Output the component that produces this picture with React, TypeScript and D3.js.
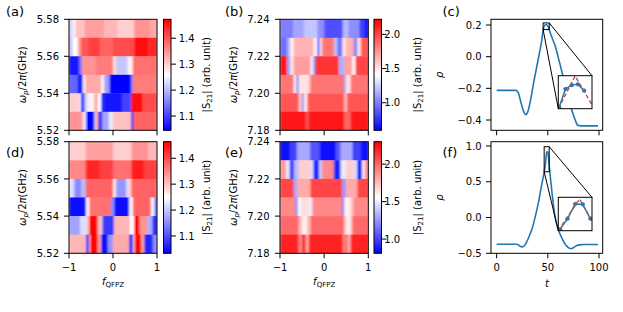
import React from "react";
import * as d3 from "d3";

const FONT = "'DejaVu Sans', sans-serif";
const C0 = "#1f77b4";
const RED_DASH = "#b5524a";

// ---------- heatmap data ----------
const fTicks = [-1, 0, 1];
const lowFreqRows = [5.575, 5.565, 5.555, 5.545, 5.535, 5.525];
const highFreqRows = [7.235, 7.225, 7.215, 7.205, 7.195, 7.185];
const lowFreqTicks = [5.52, 5.54, 5.56, 5.58];
const highFreqTicks = [7.18, 7.2, 7.22, 7.24];
const rowHalf = 0.005;

type Seg = [number, number];

// each row: [f_QFPZ start, |S21|] runs, top row first
const heatA: Seg[][] = [
  [[-1, 1.22], [-0.92, 1.27], [-0.85, 1.31], [-0.65, 1.34], [-0.2, 1.32], [0.1, 1.3], [0.48, 1.35], [0.85, 1.33]],
  [[-1, 1.21], [-0.92, 1.26], [-0.8, 1.34], [-0.73, 1.4], [-0.55, 1.42], [-0.3, 1.39], [0, 1.41], [0.485, 1.46], [0.8, 1.44]],
  [[-1, 1.06], [-0.77, 1.14], [-0.71, 1.35], [-0.4, 1.37], [0, 1.29], [0.07, 1.21], [0.33, 1.27], [0.45, 1.38]],
  [[-1, 1.13], [-0.8, 1.06], [-0.69, 1.25], [-0.63, 1.33], [-0.27, 1.27], [-0.2, 1.18], [-0.08, 1.05], [0.41, 1.15], [0.45, 1.37]],
  [[-1, 1.3], [-0.76, 1.26], [-0.73, 1.07], [-0.65, 1.22], [-0.58, 1.27], [-0.42, 1.34], [-0.35, 1.26], [-0.27, 1.08], [-0.2, 1.06], [0.2, 1.1], [0.41, 1.46], [0.67, 1.41]],
  [[-1, 1.35], [-0.69, 1.24], [-0.61, 1.05], [-0.42, 1.25], [-0.39, 1.34], [-0.33, 1.07], [-0.25, 1.18], [-0.1, 1.24], [0, 1.31], [0.41, 1.05], [0.46, 1.39]],
];

const heatD: Seg[][] = [
  [[-1, 1.29], [-0.62, 1.33], [0, 1.29], [0.42, 1.34], [0.8, 1.31]],
  [[-1, 1.35], [-0.62, 1.43], [-0.3, 1.41], [0, 1.37], [0.42, 1.44], [0.7, 1.41]],
  [[-1, 1.22], [-0.88, 1.15], [-0.72, 1.19], [-0.62, 1.38], [0, 1.27], [0.07, 1.16], [0.3, 1.22], [0.36, 1.29], [0.42, 1.38]],
  [[-1, 1.04], [-0.61, 1.25], [-0.54, 1.37], [-0.05, 1.15], [0.03, 1.04], [0.37, 1.25], [0.45, 1.38], [0.86, 1.24], [0.94, 1.12]],
  [[-1, 1.17], [-0.75, 1.22], [-0.6, 1.3], [-0.54, 1.46], [-0.35, 1.3], [-0.24, 1.08], [0.02, 1.31], [0.38, 1.25], [0.48, 1.46], [0.6, 1.34], [0.78, 1.18], [0.9, 1.06]],
  [[-1, 1.31], [-0.61, 1.04], [-0.55, 1.3], [-0.52, 1.46], [-0.35, 1.33], [-0.27, 1.04], [-0.12, 1.16], [0, 1.32], [0.37, 1.04], [0.45, 1.28], [0.49, 1.46], [0.64, 1.33], [0.71, 1.06], [0.9, 1.15]],
];

const heatB: Seg[][] = [
  [[-1, 1.0], [-0.7, 1.12], [-0.45, 1.22], [-0.15, 1.05], [0, 0.85], [0.42, 1.18], [0.55, 1.05], [0.8, 0.8], [0.92, 0.65]],
  [[-1, 0.95], [-0.84, 1.15], [-0.77, 1.45], [-0.69, 1.65], [-0.24, 1.45], [-0.16, 0.95], [-0.1, 1.5], [-0.05, 1.85], [0.22, 1.2], [0.3, 0.95], [0.41, 1.5], [0.49, 1.65], [0.67, 1.0], [0.75, 1.5], [0.83, 1.95]],
  [[-1, 2.15], [-0.84, 1.1], [-0.77, 1.5], [-0.69, 1.72], [-0.31, 1.35], [-0.24, 1.0], [-0.2, 2.05], [0.33, 1.15], [0.45, 1.7], [0.64, 1.4], [0.71, 2.0]],
  [[-1, 1.85], [-0.69, 1.45], [-0.63, 1.0], [-0.58, 1.5], [-0.35, 1.6], [-0.31, 1.85], [0.45, 1.1], [0.49, 1.5], [0.6, 1.85]],
  [[-1, 1.95], [-0.58, 1.6], [-0.5, 1.0], [-0.46, 1.45], [-0.4, 1.65], [-0.37, 1.95], [0.45, 1.65], [0.52, 1.95]],
  [[-1, 2.15], [-0.42, 1.95], [-0.35, 2.15], [0.45, 1.9], [0.6, 2.15]],
];

const heatE: Seg[][] = [
  [[-1, 0.85], [-0.77, 1.0], [-0.62, 1.3], [-0.32, 1.05], [-0.1, 0.85], [0.26, 1.05], [0.37, 1.3], [0.64, 1.0], [0.83, 0.85]],
  [[-1, 1.85], [-0.86, 1.5], [-0.78, 0.95], [-0.69, 1.35], [-0.58, 1.7], [-0.31, 1.45], [-0.24, 0.9], [-0.12, 1.4], [-0.05, 1.9], [0.22, 0.9], [0.37, 1.5], [0.49, 1.7], [0.67, 1.45], [0.75, 0.9], [0.86, 1.6], [0.92, 1.9]],
  [[-1, 2.1], [-0.69, 1.3], [-0.61, 1.8], [-0.31, 2.1], [0.41, 1.25], [0.49, 1.8], [0.75, 2.1]],
  [[-1, 1.9], [-0.65, 1.2], [-0.6, 1.55], [-0.54, 1.65], [-0.35, 1.5], [-0.27, 1.9], [0.41, 1.1], [0.45, 1.6], [0.6, 1.75], [0.67, 1.9]],
  [[-1, 2.0], [-0.58, 1.75], [-0.5, 1.6], [-0.39, 1.75], [-0.31, 2.0], [0.45, 1.75], [0.49, 1.6], [0.6, 1.75], [0.64, 2.0]],
  [[-1, 2.2], [-0.58, 1.9], [-0.5, 2.2], [-0.42, 1.8], [-0.35, 2.2], [0.42, 1.9], [0.49, 2.2], [0.52, 1.8], [0.6, 2.2]],
];

const cDomainA = [1.045, 1.473];
const cDomainD = [1.033, 1.464];
const cDomainB = [0.597, 2.22];
const cDomainE = [0.81, 2.3];
const cTicksLow = [1.1, 1.2, 1.3, 1.4];
const cTicksHigh = [1.0, 1.5, 2.0];

// ---------- line data ----------
const tTicks = [0, 50, 100];
const rhoTicksC = [-0.4, -0.2, 0.0, 0.2];
const rhoTicksF = [-0.5, 0.0, 0.5, 1.0];

const tC = [0, 5, 10, 15, 19, 21, 23, 25, 27, 28.5, 30, 32, 34, 36, 39, 42, 44, 45.56, 46.67, 47.78, 48.89, 50.0, 51.11, 53, 55, 57, 60, 62, 65, 68, 71, 74, 77, 79, 82, 90, 99];
const rhoC = [-0.213, -0.213, -0.213, -0.213, -0.213, -0.226, -0.27, -0.32, -0.355, -0.367, -0.355, -0.31, -0.245, -0.17, -0.07, 0.03, 0.1, 0.173, 0.196, 0.201, 0.202, 0.194, 0.175, 0.14, 0.105, 0.072, 0.0, -0.05, -0.13, -0.21, -0.285, -0.35, -0.405, -0.432, -0.437, -0.437, -0.437];

const tF = [0, 10, 20, 21.5, 23, 25, 27, 29, 31, 33, 35, 37, 39, 41, 43, 45, 46.67, 47.78, 48.89, 50.0, 51.11, 52.5, 54, 55.5, 57, 59, 61, 63.5, 66, 68.5, 71, 73, 75, 78, 81, 85, 99];
const rhoF = [-0.374, -0.374, -0.374, -0.385, -0.403, -0.41, -0.395, -0.35, -0.29, -0.22, -0.14, -0.03, 0.09, 0.22, 0.38, 0.53, 0.654, 0.766, 0.92, 0.916, 0.766, 0.56, 0.36, 0.17, 0.02, -0.11, -0.2, -0.28, -0.35, -0.4, -0.43, -0.435, -0.42, -0.395, -0.382, -0.378, -0.378];

// zoomed insets
const insetDomainTC = [45.4, 51.4];
const insetDomainRhoC = [0.171, 0.213];
const insetTC = [45.56, 46.67, 47.78, 48.89, 50.0];
const insetRhoC = [0.173, 0.196, 0.201, 0.202, 0.194];
const theoryTC = [45.4, 48.4, 51.4];
const theoryRhoC = [0.171, 0.2126, 0.176];

const insetDomainTF = [46.42, 51.35];
const insetDomainRhoF = [0.64, 0.99];
const insetTF = [46.67, 47.78, 48.89, 50.0, 51.11];
const insetRhoF = [0.654, 0.766, 0.92, 0.916, 0.766];
const theoryTF = [46.42, 49.53, 51.35];
const theoryRhoF = [0.64, 0.9725, 0.738];

// ---------- helpers ----------
function bwr(t: number): string {
  const u = Math.max(0, Math.min(1, t));
  if (u < 0.5) {
    const v = Math.round(2 * u * 255);
    return `rgb(${v},${v},255)`;
  }
  const v = Math.round(2 * (1 - u) * 255);
  return `rgb(255,${v},${v})`;
}

const TICK = 5;
const SPINE = "#000";

function PanelLetter({ x, y, s }: { x: number; y: number; s: string }) {
  return (
    <text x={x} y={y} fontSize={13} fontFamily={FONT} fill="#000">
      {s}
    </text>
  );
}

function OmegaLabel({ x, y }: { x: number; y: number }) {
  return (
    <text transform={`translate(${x},${y}) rotate(-90)`} textAnchor="middle" fontSize={10} fontFamily={FONT} fill="#000">
      <tspan fontStyle="italic">ω</tspan>
      <tspan fontStyle="italic" fontSize={7} dy={2}>p</tspan>
      <tspan dy={-2}>/2</tspan>
      <tspan fontStyle="italic">π</tspan>
      <tspan>(GHz)</tspan>
    </text>
  );
}

function S21Label({ x, y }: { x: number; y: number }) {
  return (
    <text transform={`translate(${x},${y}) rotate(-90)`} textAnchor="middle" fontSize={10} fontFamily={FONT} fill="#000">
      <tspan>|S</tspan>
      <tspan fontSize={7} dy={2}>21</tspan>
      <tspan dy={-2}>| (arb. unit)</tspan>
    </text>
  );
}

function FLabel({ x, y }: { x: number; y: number }) {
  return (
    <text x={x} y={y} textAnchor="middle" fontSize={10} fontFamily={FONT} fill="#000">
      <tspan fontStyle="italic">f</tspan>
      <tspan fontSize={7} dy={2}>QFPZ</tspan>
    </text>
  );
}

type HeatProps = {
  id: string;
  x0: number; x1: number; y0: number; y1: number;
  rows: Seg[][];
  freqs: number[];
  yTicks: number[];
  cDomain: number[];
  cTicks: number[];
  cbX0: number; cbX1: number;
  cbLabelX: number;
  cbTickTextX: number;
  yLabelX: number;
  yTickTextX: number;
  showXLabels: boolean;
};

function Heatmap(p: HeatProps) {
  const xs = d3.scaleLinear().domain([-1, 1]).range([p.x0, p.x1]);
  const ys = d3.scaleLinear().domain([p.yTicks[0], p.yTicks[p.yTicks.length - 1]]).range([p.y1, p.y0]);
  const cs = d3.scaleLinear().domain(p.cDomain).range([p.y1, p.y0]);
  const norm = d3.scaleLinear().domain(p.cDomain).range([0, 1]);
  const fmtY = d3.format(".2f");
  const fmtC = d3.format(".1f");
  const cells: React.ReactNode[] = [];
  p.rows.forEach((segs, r) => {
    const f = p.freqs[r];
    const yTop = ys(f + rowHalf);
    const yBot = ys(f - rowHalf);
    segs.forEach((s, i) => {
      const fa = s[0];
      const fb = i + 1 < segs.length ? segs[i + 1][0] : 1;
      const xa = xs(fa);
      const xb = xs(fb);
      cells.push(
        <rect key={`${r}-${i}`} x={xa} y={yTop} width={xb - xa + 0.4} height={yBot - yTop + 0.4} fill={bwr(norm(s[1]))} />
      );
    });
  });
  const midY = (p.y0 + p.y1) / 2;
  return (
    <g>
      <defs>
        <clipPath id={`clip-${p.id}`}>
          <rect x={p.x0} y={p.y0} width={p.x1 - p.x0} height={p.y1 - p.y0} />
        </clipPath>
        <filter id={`blur-${p.id}`} filterUnits="userSpaceOnUse" x={p.x0} y={p.y0} width={p.x1 - p.x0} height={p.y1 - p.y0}>
          <feGaussianBlur stdDeviation="0.9 0" edgeMode="duplicate" />
        </filter>
        <linearGradient id={`grad-${p.id}`} x1="0" y1="1" x2="0" y2="0">
          <stop offset="0" stopColor="rgb(0,0,255)" />
          <stop offset="0.5" stopColor="rgb(255,255,255)" />
          <stop offset="1" stopColor="rgb(255,0,0)" />
        </linearGradient>
      </defs>
      <g clipPath={`url(#clip-${p.id})`}>
        <g filter={`url(#blur-${p.id})`}>{cells}</g>
      </g>
      <rect x={p.x0} y={p.y0} width={p.x1 - p.x0} height={p.y1 - p.y0} fill="none" stroke={SPINE} strokeWidth={1} />
      {p.yTicks.map((v) => (
        <g key={`yt${v}`}>
          <line x1={p.x0 - TICK} x2={p.x0} y1={ys(v)} y2={ys(v)} stroke={SPINE} strokeWidth={1} />
          <text x={p.yTickTextX} y={ys(v)} dy="0.36em" textAnchor="end" fontSize={10} fontFamily={FONT}>
            {fmtY(v)}
          </text>
        </g>
      ))}
      {fTicks.map((v) => (
        <g key={`xt${v}`}>
          <line x1={xs(v)} x2={xs(v)} y1={p.y1} y2={p.y1 + TICK} stroke={SPINE} strokeWidth={1} />
          {p.showXLabels && (
            <text x={xs(v)} y={p.y1 + 17.5} textAnchor="middle" fontSize={10} fontFamily={FONT}>
              {d3.format("")(v).replace("-", "−")}
            </text>
          )}
        </g>
      ))}
      {p.showXLabels && <FLabel x={(p.x0 + p.x1) / 2} y={p.y1 + 32} />}
      <OmegaLabel x={p.yLabelX} y={midY} />
      {/* colorbar */}
      <rect x={p.cbX0} y={p.y0} width={p.cbX1 - p.cbX0} height={p.y1 - p.y0} fill={`url(#grad-${p.id})`} stroke={SPINE} strokeWidth={1} />
      {p.cTicks.map((v) => (
        <g key={`ct${v}`}>
          <line x1={p.cbX1} x2={p.cbX1 + TICK} y1={cs(v)} y2={cs(v)} stroke={SPINE} strokeWidth={1} />
          <text x={p.cbTickTextX} y={cs(v)} dy="0.36em" textAnchor="start" fontSize={10} fontFamily={FONT}>
            {fmtC(v)}
          </text>
        </g>
      ))}
      <S21Label x={p.cbLabelX} y={midY} />
    </g>
  );
}

type LineProps = {
  id: string;
  x0: number; x1: number; y0: number; y1: number;
  yDomain: number[];
  yTicks: number[];
  t: number[];
  rho: number[];
  insetBox: number[]; // x0, y0, x1, y1
  insetDomainT: number[];
  insetDomainRho: number[];
  insetT: number[];
  insetRho: number[];
  theoryT: number[];
  theoryRho: number[];
  showXLabels: boolean;
};

function LinePanel(p: LineProps) {
  const xs = d3.scaleLinear().domain([-5.5, 103.6]).range([p.x0, p.x1]);
  const ys = d3.scaleLinear().domain(p.yDomain).range([p.y1, p.y0]);
  const fmt = d3.format(".1f");
  const pts: [number, number][] = p.t.map((t, i) => [t, p.rho[i]]);
  const line = d3.line<[number, number]>().x((d) => xs(d[0])).y((d) => ys(d[1])).curve(d3.curveMonotoneX);
  const [ix0, iy0, ix1, iy1] = p.insetBox;
  const ixs = d3.scaleLinear().domain(p.insetDomainT).range([ix0, ix1]);
  const iys = d3.scaleLinear().domain(p.insetDomainRho).range([iy1, iy0]);
  const iPts: [number, number][] = p.insetT.map((t, i) => [t, p.insetRho[i]]);
  const thPts: [number, number][] = p.theoryT.map((t, i) => [t, p.theoryRho[i]]);
  const iline = d3.line<[number, number]>().x((d) => ixs(d[0])).y((d) => iys(d[1]));
  // small zoom box in main axes
  const sx0 = xs(p.insetDomainT[0]);
  const sx1 = xs(p.insetDomainT[1]);
  const sy0 = ys(p.insetDomainRho[1]);
  const sy1 = ys(p.insetDomainRho[0]);
  const midY = (p.y0 + p.y1) / 2;
  return (
    <g>
      <defs>
        <clipPath id={`clipi-${p.id}`}>
          <rect x={ix0} y={iy0} width={ix1 - ix0} height={iy1 - iy0} />
        </clipPath>
      </defs>
      <path d={line(pts) || ""} fill="none" stroke={C0} strokeWidth={1.6} />
      <rect x={sx0} y={sy0} width={sx1 - sx0} height={sy1 - sy0} fill="none" stroke="#000" strokeWidth={1} />
      <line x1={sx1} y1={sy0} x2={ix1} y2={iy0} stroke="#000" strokeWidth={1} />
      <line x1={sx0} y1={sy1} x2={ix0} y2={iy1} stroke="#000" strokeWidth={1} />
      <rect x={ix0} y={iy0} width={ix1 - ix0} height={iy1 - iy0} fill="#fff" />
      <g clipPath={`url(#clipi-${p.id})`}>
        <path d={iline(iPts) || ""} fill="none" stroke={C0} strokeWidth={1.5} />
        {iPts.map((d, i) => (
          <circle key={i} cx={ixs(d[0])} cy={iys(d[1])} r={2.1} fill={C0} />
        ))}
        <path d={iline(thPts) || ""} fill="none" stroke={RED_DASH} strokeWidth={1.4} strokeDasharray="4,2.5" />
      </g>
      <rect x={ix0} y={iy0} width={ix1 - ix0} height={iy1 - iy0} fill="none" stroke="#000" strokeWidth={1} />
      <rect x={p.x0} y={p.y0} width={p.x1 - p.x0} height={p.y1 - p.y0} fill="none" stroke={SPINE} strokeWidth={1} />
      {p.yTicks.map((v) => (
        <g key={`yt${v}`}>
          <line x1={p.x0 - TICK} x2={p.x0} y1={ys(v)} y2={ys(v)} stroke={SPINE} strokeWidth={1} />
          <text x={p.x0 - 9.3} y={ys(v)} dy="0.36em" textAnchor="end" fontSize={10} fontFamily={FONT}>
            {fmt(v)}
          </text>
        </g>
      ))}
      {tTicks.map((v) => (
        <g key={`xt${v}`}>
          <line x1={xs(v)} x2={xs(v)} y1={p.y1} y2={p.y1 + TICK} stroke={SPINE} strokeWidth={1} />
          {p.showXLabels && (
            <text x={xs(v)} y={p.y1 + 17.5} textAnchor="middle" fontSize={10} fontFamily={FONT}>
              {String(v)}
            </text>
          )}
        </g>
      ))}
      {p.showXLabels && (
        <text x={(p.x0 + p.x1) / 2} y={p.y1 + 33.5} textAnchor="middle" fontSize={10} fontStyle="italic" fontFamily={FONT}>
          t
        </text>
      )}
      <text transform={`translate(${p.x0 - 48},${midY}) rotate(-90)`} textAnchor="middle" fontSize={10} fontStyle="italic" fontFamily={FONT}>
        ρ
      </text>
    </g>
  );
}

export default function App() {
  const topY = [19.3, 130.3];
  const botY = [141.7, 253.3];
  const left = [69, 157];
  const mid = [280, 368.3];
  const right = [491, 602.7];
  return (
    <svg width={623} height={312} style={{ position: "absolute", left: 0, top: 0, background: "#fff" }} fontFamily={FONT}>
      <rect x={0} y={0} width={623} height={312} fill="#fff" />
      <Heatmap id="a" x0={left[0]} x1={left[1]} y0={topY[0]} y1={topY[1]} rows={heatA} freqs={lowFreqRows} yTicks={lowFreqTicks}
        cDomain={cDomainA} cTicks={cTicksLow} cbX0={163.5} cbX1={171} cbLabelX={209.5} cbTickTextX={178.7} yLabelX={25.5} yTickTextX={59} showXLabels={false} />
      <Heatmap id="d" x0={left[0]} x1={left[1]} y0={botY[0]} y1={botY[1]} rows={heatD} freqs={lowFreqRows} yTicks={lowFreqTicks}
        cDomain={cDomainD} cTicks={cTicksLow} cbX0={163.5} cbX1={171} cbLabelX={209.5} cbTickTextX={178.7} yLabelX={25.5} yTickTextX={59} showXLabels={true} />
      <Heatmap id="b" x0={mid[0]} x1={mid[1]} y0={topY[0]} y1={topY[1]} rows={heatB} freqs={highFreqRows} yTicks={highFreqTicks}
        cDomain={cDomainB} cTicks={cTicksHigh} cbX0={374} cbX1={381.5} cbLabelX={421} cbTickTextX={384.3} yLabelX={237} yTickTextX={269.5} showXLabels={false} />
      <Heatmap id="e" x0={mid[0]} x1={mid[1]} y0={botY[0]} y1={botY[1]} rows={heatE} freqs={highFreqRows} yTicks={highFreqTicks}
        cDomain={cDomainE} cTicks={cTicksHigh} cbX0={374} cbX1={381.5} cbLabelX={421} cbTickTextX={384.3} yLabelX={237} yTickTextX={269.5} showXLabels={true} />
      <LinePanel id="c" x0={right[0]} x1={right[1]} y0={topY[0]} y1={topY[1]} yDomain={[-0.465, 0.236]} yTicks={rhoTicksC}
        t={tC} rho={rhoC} insetBox={[558.3, 75.7, 592, 108.7]} insetDomainT={insetDomainTC} insetDomainRho={insetDomainRhoC}
        insetT={insetTC} insetRho={insetRhoC} theoryT={theoryTC} theoryRho={theoryRhoC} showXLabels={false} />
      <LinePanel id="f" x0={right[0]} x1={right[1]} y0={botY[0]} y1={botY[1]} yDomain={[-0.5, 1.06]} yTicks={rhoTicksF}
        t={tF} rho={rhoF} insetBox={[558.3, 197.3, 592, 230.7]} insetDomainT={insetDomainTF} insetDomainRho={insetDomainRhoF}
        insetT={insetTF} insetRho={insetRhoF} theoryT={theoryTF} theoryRho={theoryRhoF} showXLabels={true} />
      <PanelLetter x={6} y={15.5} s="(a)" />
      <PanelLetter x={225} y={15.5} s="(b)" />
      <PanelLetter x={442.5} y={15.5} s="(c)" />
      <PanelLetter x={6} y={156.7} s="(d)" />
      <PanelLetter x={225} y={156.7} s="(e)" />
      <PanelLetter x={442.5} y={156.7} s="(f)" />
    </svg>
  );
}
